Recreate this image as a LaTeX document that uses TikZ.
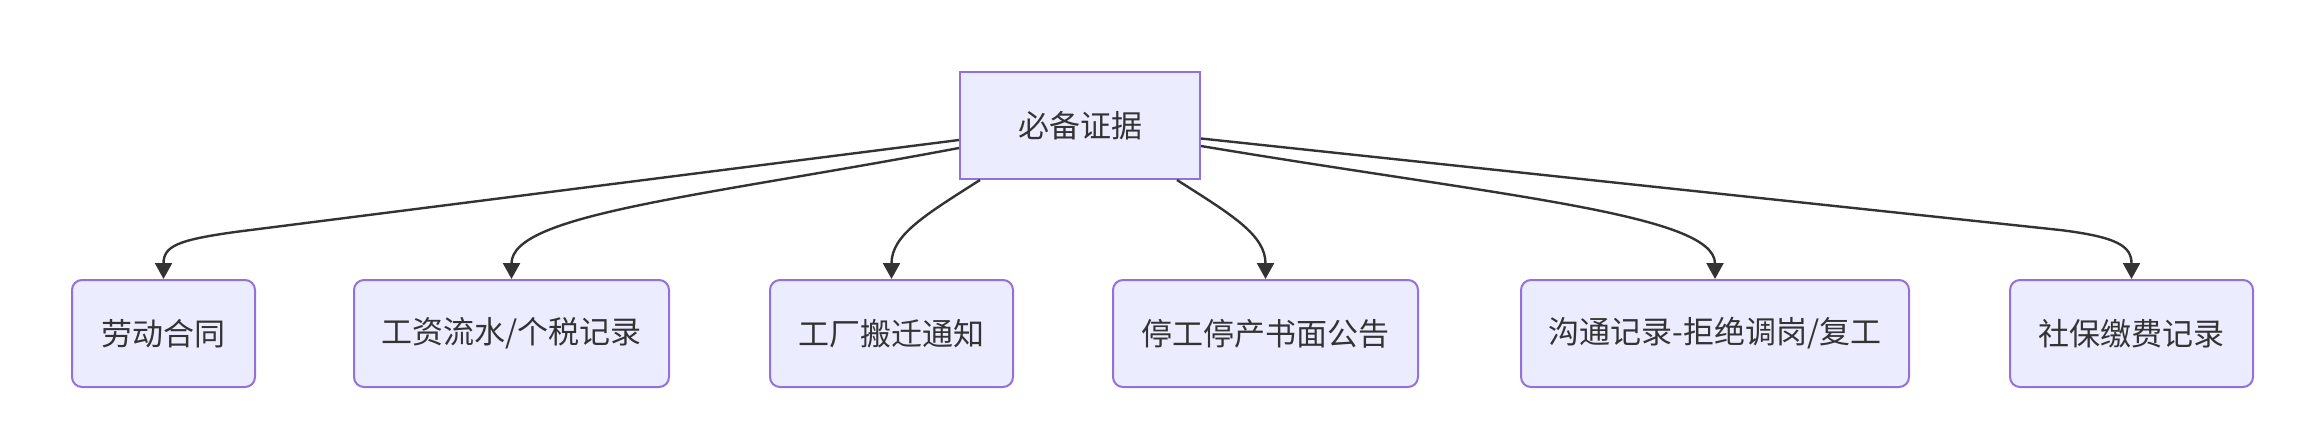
\documentclass[tikz,border=0pt]{standalone}
\usepackage{fontspec}
\setmainfont{Noto Sans CJK SC}
\usetikzlibrary{arrows.meta}
\definecolor{nodefill}{HTML}{ECECFF}
\definecolor{nodeline}{HTML}{9370DB}
\definecolor{edgecol}{HTML}{333333}
\begin{document}
\begin{tikzpicture}[x=1pt,y=-1pt,
  base/.style={draw=nodeline, fill=nodefill, line width=2pt, text=edgecol,
    font=\fontsize{31pt}{36pt}\selectfont, inner sep=0pt, minimum height=107pt, anchor=center},
  topbox/.style={base},
  leafbox/.style={base, rounded corners=10pt},
  arr/.style={draw=edgecol, line width=2.4pt, -{Triangle[length=16pt,width=17pt]}}]
\useasboundingbox (0,0) rectangle (2309,444);
\node[topbox, minimum width=240pt] (top) at (1080,125.5) {必备证据};
\node[leafbox, minimum width=183pt] (n1) at (163.5,333.5) {劳动合同};
\node[leafbox, minimum width=315pt] (n2) at (511.5,333.5) {工资流水/个税记录};
\node[leafbox, minimum width=243pt] (n3) at (891.5,333.5) {工厂搬迁通知};
\node[leafbox, minimum width=305pt] (n4) at (1265.5,333.5) {停工停产书面公告};
\node[leafbox, minimum width=388pt] (n5) at (1715,333.5) {沟通记录-拒绝调岗/复工};
\node[leafbox, minimum width=243pt] (n6) at (2131.5,333.5) {社保缴费记录};

\draw[arr] ([yshift=-14.5pt]top.west) -- (235,232) .. controls (178,240) and (163.5,246) .. (n1.north);
\draw[arr] ([yshift=-22.5pt]top.west) .. controls (699,197) and (511.5,214) .. (n2.north);
\draw[arr] ([xshift=-100pt]top.south) .. controls (925,215) and (891.5,235) .. (n3.north);
\draw[arr] ([xshift=97pt]top.south) .. controls (1232,215) and (1265.5,235) .. (n4.north);
\draw[arr] ([yshift=-20.5pt]top.east) .. controls (1500,196) and (1715,214) .. (n5.north);
\draw[arr] ([yshift=-13pt]top.east) -- (2060,230) .. controls (2117,237) and (2131.5,246) .. (n6.north);
\end{tikzpicture}
\end{document}
